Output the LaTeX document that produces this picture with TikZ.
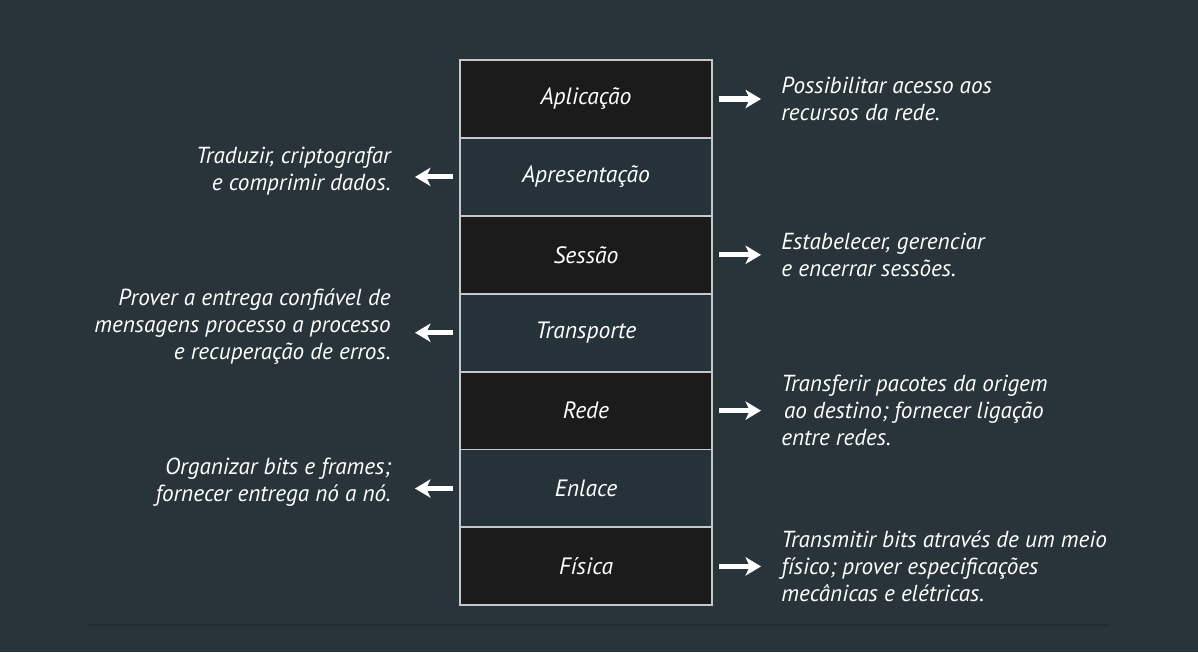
\documentclass[tikz,border=0pt]{standalone}
\usepackage{fontspec}
\setmainfont{PT Sans}
\usetikzlibrary{arrows.meta}

\definecolor{bgcol}{RGB}{41,51,58}
\definecolor{darkbox}{RGB}{28,27,27}
\definecolor{slatebox}{RGB}{38,50,58}
\definecolor{edgecol}{RGB}{196,200,202}
\definecolor{rulecol}{RGB}{35,44,50}

\tikzset{
  layer/.style={draw=edgecol, line width=1.4pt, minimum width=6.3cm, minimum height=1.95cm,
    text=white, font=\itshape\fontsize{16.8}{19.3}\selectfont},
  desc/.style={text=white, inner sep=0pt, font=\itshape\fontsize{16.5}{19.3}\selectfont},
  pointer/.style={white, line width=3.6pt, -{Stealth[length=11pt, width=13pt, inset=3pt]}},
}

\begin{document}
\begin{tikzpicture}[x=0.025cm, y=-0.025cm]

  \def\d{77.9};

  % background
  \fill[bgcol] (0,0) rectangle (1198,652);
  \useasboundingbox (0,0) rectangle (1198,652);
  \draw[rulecol, line width=1.4pt] (88,625) -- (1110,625);

  %draw layers
    \foreach \i/\txt/\name/\col in {0/Aplicação/apl/darkbox,1/Apresentação/apr/slatebox,2/Sessão/ses/darkbox,3/Transporte/tra/slatebox,4/Rede/red/darkbox,5/Enlace/enl/slatebox,6/Física/fis/darkbox}{
         \node[layer, fill=\col] (\name) at (586, 99 + \i*\d) {\txt};
    }

  %right side
    \foreach \name/\txt in { apl/{Possibilitar acesso aos\\recursos da rede.},
        ses/{Estabelecer, gerenciar\\e encerrar sessões.},
        red/{Transferir pacotes da origem\\\hspace*{0.07cm}ao destino; fornecer ligação\\entre redes.},
        fis/{Transmitir bits através de um meio\\físico; prover especificações\\mecânicas e elétricas.}}{
         \node[desc, align=left, anchor=west] (d-\name) at ([xshift=1.7cm]\name.east) {\txt};
         \draw[pointer, shorten <=0.15cm, shorten >=0.5cm] (\name.east) -- (d-\name.west);
    }

  %left side
    \foreach \name/\txt in { apr/{Traduzir, criptografar\\e comprimir dados.},
        tra/{Prover a entrega confiável de\\mensagens processo a processo\\e recuperação de erros.},
        enl/{Organizar bits e frames;\\fornecer entrega nó a nó.}}{
         \node[desc, align=right, anchor=east] (d-\name) at ([xshift=-1.7cm, yshift=0.15cm]\name.west) {\txt};
         \draw[pointer, shorten <=0.15cm, shorten >=0.6cm] (\name.west) -- (\name.west -| d-\name.east);
    }

\end{tikzpicture}
\end{document}
